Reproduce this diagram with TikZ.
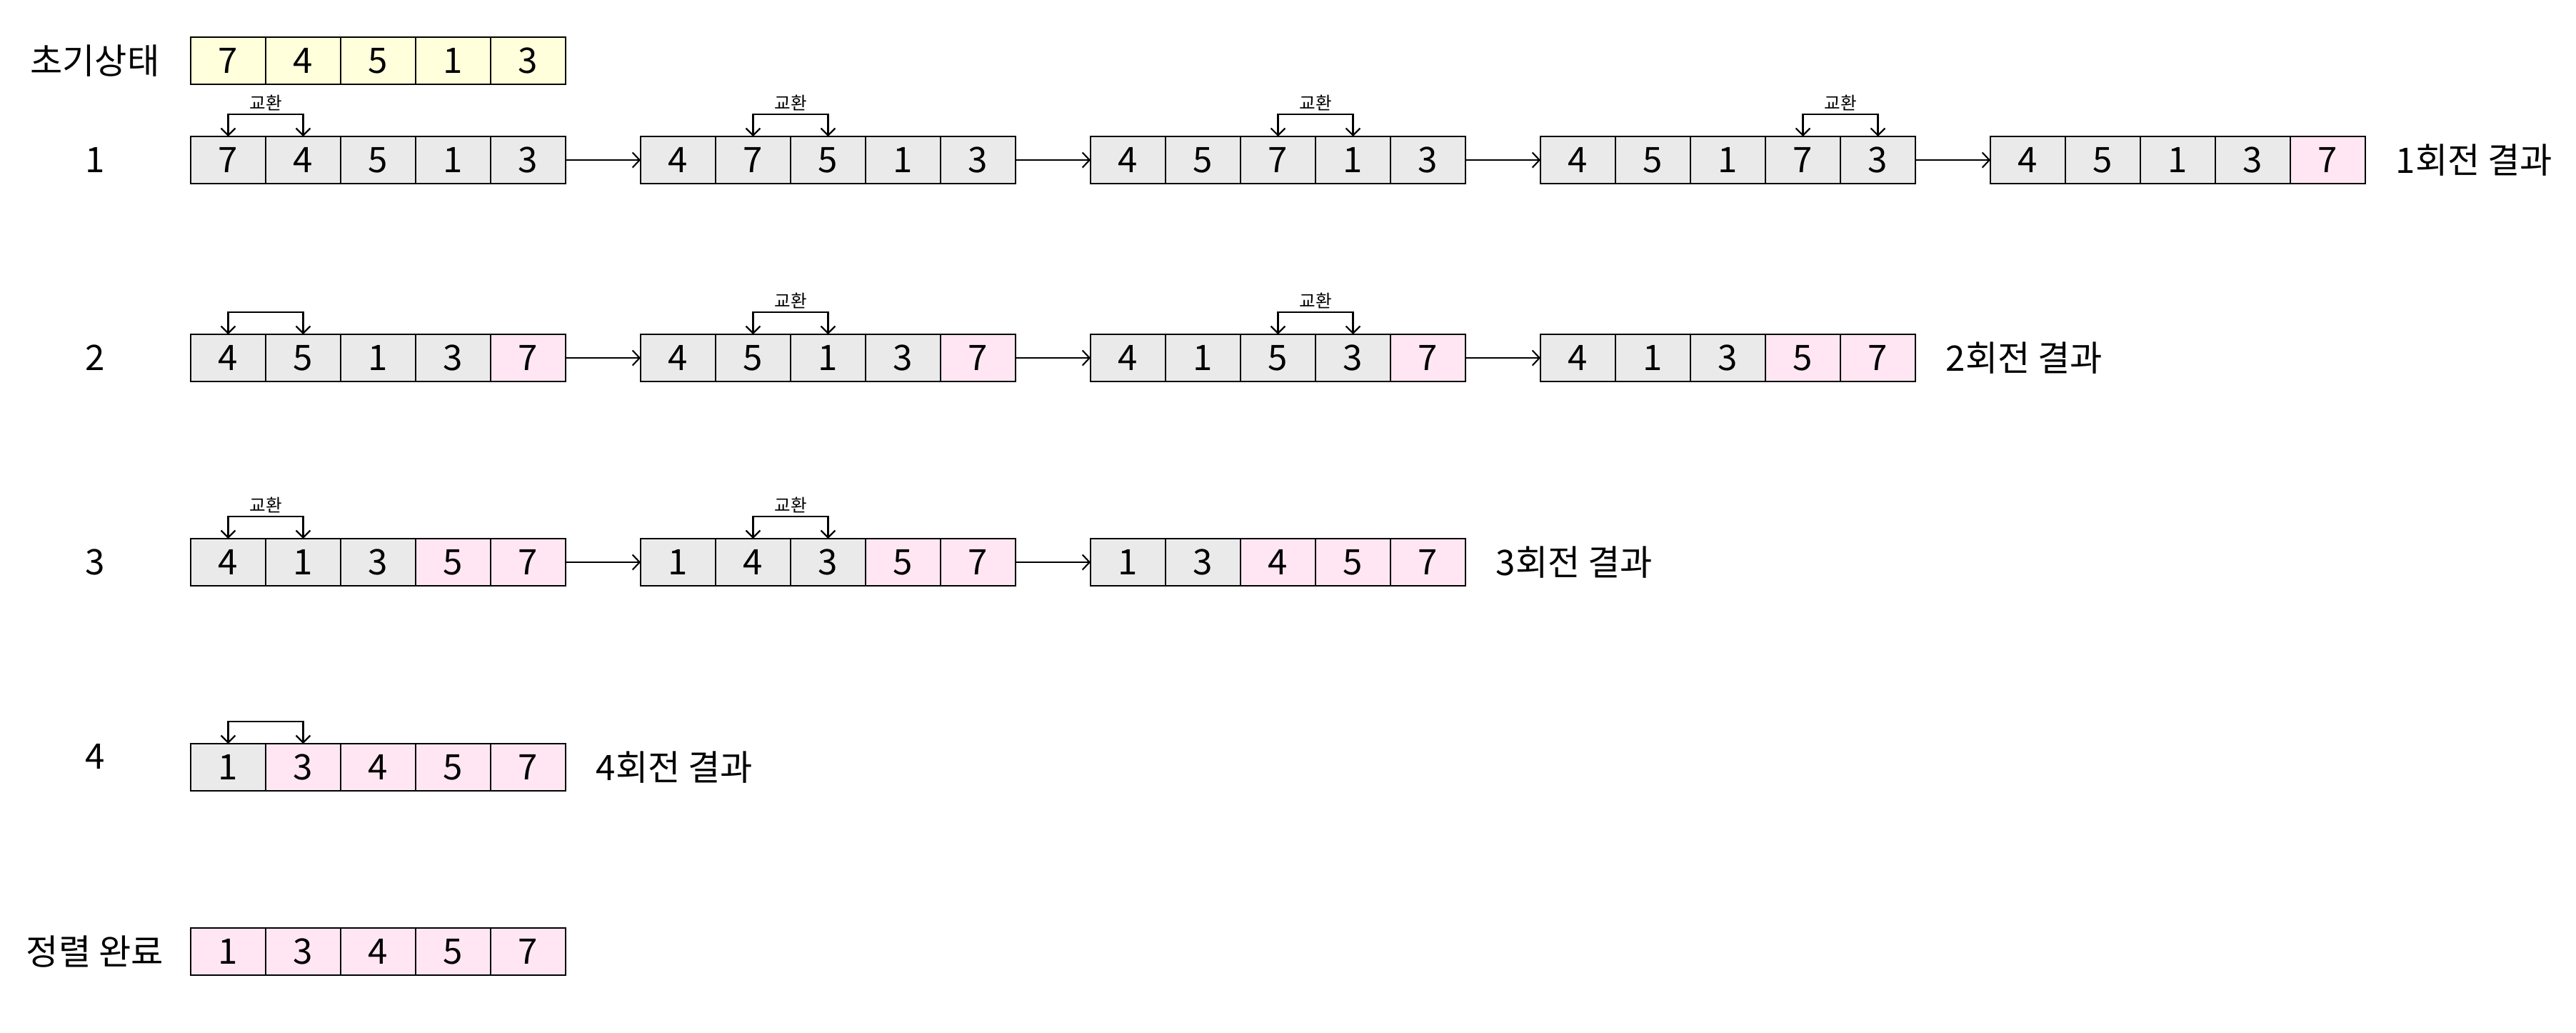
\documentclass[tikz,border=0pt]{standalone}
\usepackage{fontspec}
\setmainfont{Noto Sans CJK KR}
\usepackage{tikz}
\usetikzlibrary{matrix}
\usetikzlibrary{positioning}
\usetikzlibrary{arrows.meta}
\usepackage{xcolor}
\definecolor{cellgray}{HTML}{EAEAEA}
\definecolor{donepink}{HTML}{FFE6F2}
\definecolor{startyellow}{HTML}{FFFFDB}
\tikzset{cellrow/.style={
          matrix of nodes,
          column sep={1.05cm, between origins},
          nodes={draw, line width=0.75pt, fill=cellgray, anchor=center, minimum width=1.05cm, minimum height=0.66cm, inner sep=0pt, outer sep=0pt, font=\fontsize{14pt}{16pt}\selectfont} % outer sep 0 so that the arrows meet the border
          },
        startrow/.style={nodes={fill=startyellow}},
        done/.style={fill=donepink},
        rowlabel/.style={inner sep=0pt, font=\fontsize{14pt}{16pt}\selectfont},
        result/.style={inner sep=0pt, anchor=west, font=\fontsize{14pt}{16pt}\selectfont},
        flow/.style={-{Straight Barb[length=2.8pt, width=6pt]}, line width=0.6pt},
        swapline/.style={{Straight Barb[length=2.8pt, width=5.6pt]}-{Straight Barb[length=2.8pt, width=5.6pt]}, line width=0.65pt},
        swaplabel/.style={above, inner sep=1.2pt, font=\fontsize{7pt}{8pt}\selectfont},
}

\begin{document}
\begin{tikzpicture}
      \useasboundingbox (0,0) rectangle (36.07,-14.45);
      % START
      \node[rowlabel] (l0) at (1.33,-0.85) {초기상태};
      \matrix[cellrow, startrow] (r0a) at (5.295,-0.85) {
        7 & 4 & 5 & 1 & 3 \\
        };

      % ROUND 1
      \node[rowlabel] (l1) at (1.33,-2.24) {1};
      \matrix[cellrow] (r1a) at (5.295,-2.24) {
        7 & 4 & 5 & 1 & 3 \\
        };
      \matrix[cellrow] (r1b) at (11.595,-2.24) {
        4 & 7 & 5 & 1 & 3 \\
        };
      \matrix[cellrow] (r1c) at (17.895,-2.24) {
        4 & 5 & 7 & 1 & 3 \\
        };
      \matrix[cellrow] (r1d) at (24.195,-2.24) {
        4 & 5 & 1 & 7 & 3 \\
        };
      \matrix[cellrow] (r1e) at (30.495,-2.24) {
        4 & 5 & 1 & 3 & |[done]| 7 \\
        };
      \node[result, right=0.42cm of r1e-1-5] (res1) {1회전 결과};
      \draw[swapline] (r1a-1-1.north) -- ++(0,0.31) -| node[swaplabel, pos=0.25] (sw1a) {교환} (r1a-1-2.north);
      \draw[swapline] (r1b-1-2.north) -- ++(0,0.31) -| node[swaplabel, pos=0.25] (sw1b) {교환} (r1b-1-3.north);
      \draw[swapline] (r1c-1-3.north) -- ++(0,0.31) -| node[swaplabel, pos=0.25] (sw1c) {교환} (r1c-1-4.north);
      \draw[swapline] (r1d-1-4.north) -- ++(0,0.31) -| node[swaplabel, pos=0.25] (sw1d) {교환} (r1d-1-5.north);
      \draw[flow] (r1a-1-5.east) -- (r1b-1-1.west);
      \draw[flow] (r1b-1-5.east) -- (r1c-1-1.west);
      \draw[flow] (r1c-1-5.east) -- (r1d-1-1.west);
      \draw[flow] (r1d-1-5.east) -- (r1e-1-1.west);

      % ROUND 2
      \node[rowlabel] (l2) at (1.33,-5.01) {2};
      \matrix[cellrow] (r2a) at (5.295,-5.01) {
        4 & 5 & 1 & 3 & |[done]| 7 \\
        };
      \matrix[cellrow] (r2b) at (11.595,-5.01) {
        4 & 5 & 1 & 3 & |[done]| 7 \\
        };
      \matrix[cellrow] (r2c) at (17.895,-5.01) {
        4 & 1 & 5 & 3 & |[done]| 7 \\
        };
      \matrix[cellrow] (r2d) at (24.195,-5.01) {
        4 & 1 & 3 & |[done]| 5 & |[done]| 7 \\
        };
      \node[result, right=0.42cm of r2d-1-5] (res2) {2회전 결과};
      \draw[swapline] (r2a-1-1.north) -- ++(0,0.31) -| (r2a-1-2.north);
      \draw[swapline] (r2b-1-2.north) -- ++(0,0.31) -| node[swaplabel, pos=0.25] (sw2b) {교환} (r2b-1-3.north);
      \draw[swapline] (r2c-1-3.north) -- ++(0,0.31) -| node[swaplabel, pos=0.25] (sw2c) {교환} (r2c-1-4.north);
      \draw[flow] (r2a-1-5.east) -- (r2b-1-1.west);
      \draw[flow] (r2b-1-5.east) -- (r2c-1-1.west);
      \draw[flow] (r2c-1-5.east) -- (r2d-1-1.west);

      % ROUND 3
      \node[rowlabel] (l3) at (1.33,-7.87) {3};
      \matrix[cellrow] (r3a) at (5.295,-7.87) {
        4 & 1 & 3 & |[done]| 5 & |[done]| 7 \\
        };
      \matrix[cellrow] (r3b) at (11.595,-7.87) {
        1 & 4 & 3 & |[done]| 5 & |[done]| 7 \\
        };
      \matrix[cellrow] (r3c) at (17.895,-7.87) {
        1 & 3 & |[done]| 4 & |[done]| 5 & |[done]| 7 \\
        };
      \node[result, right=0.42cm of r3c-1-5] (res3) {3회전 결과};
      \draw[swapline] (r3a-1-1.north) -- ++(0,0.31) -| node[swaplabel, pos=0.25] (sw3a) {교환} (r3a-1-2.north);
      \draw[swapline] (r3b-1-2.north) -- ++(0,0.31) -| node[swaplabel, pos=0.25] (sw3b) {교환} (r3b-1-3.north);
      \draw[flow] (r3a-1-5.east) -- (r3b-1-1.west);
      \draw[flow] (r3b-1-5.east) -- (r3c-1-1.west);

      % ROUND 4
      \node[rowlabel] (l4) at (1.33,-10.59) {4};
      \matrix[cellrow] (r4a) at (5.295,-10.74) {
        1 & |[done]| 3 & |[done]| 4 & |[done]| 5 & |[done]| 7 \\
        };
      \node[result, right=0.42cm of r4a-1-5] (res4) {4회전 결과};
      \draw[swapline] (r4a-1-1.north) -- ++(0,0.31) -| (r4a-1-2.north);

      % SORTED
      \node[rowlabel] (l5) at (1.33,-13.32) {정렬 완료};
      \matrix[cellrow] (r5a) at (5.295,-13.32) {
        |[done]| 1 & |[done]| 3 & |[done]| 4 & |[done]| 5 & |[done]| 7 \\
        };
\end{tikzpicture}
\end{document}
